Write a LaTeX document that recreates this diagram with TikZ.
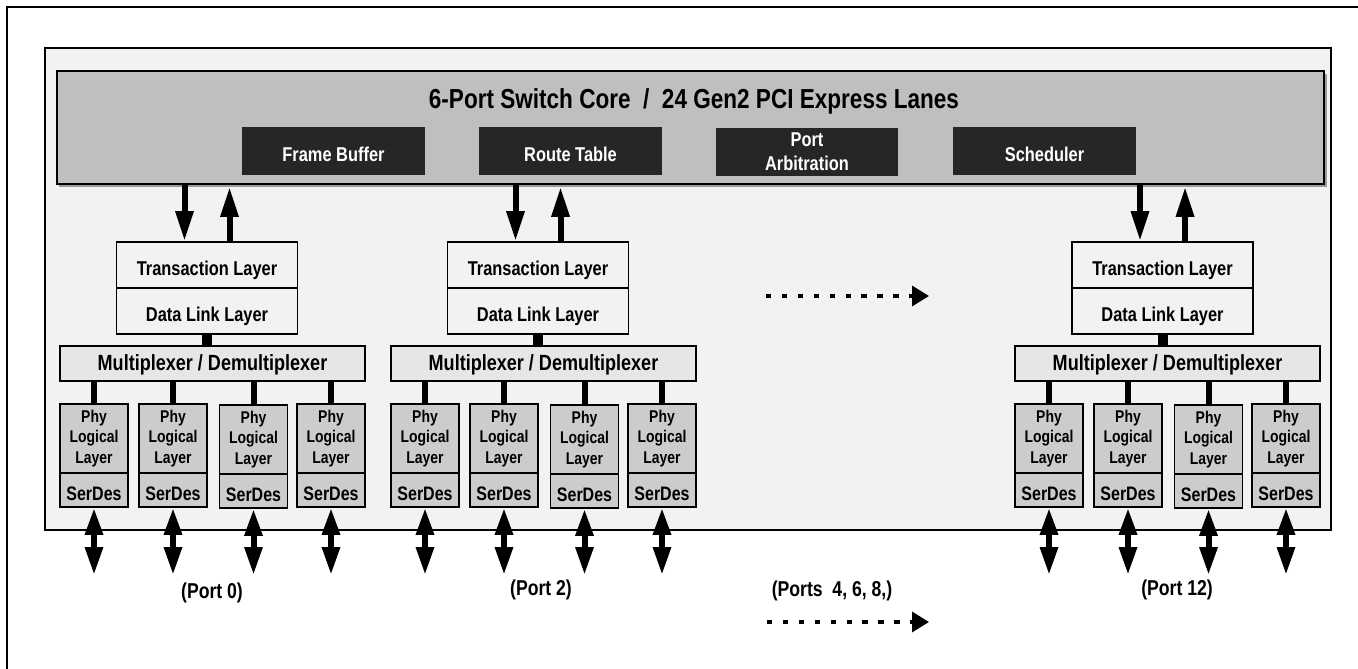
\documentclass[tikz,border=0pt]{standalone}
\usepackage{fontspec}
\setmainfont{Liberation Sans}[FakeStretch=0.82]
\usetikzlibrary{arrows.meta,calc}
\definecolor{innerbg}{HTML}{F2F2F2}
\definecolor{corebg}{HTML}{BFBFBF}
\definecolor{corebox}{HTML}{262626}
\definecolor{muxbg}{HTML}{E6E6E6}
\definecolor{phybg}{HTML}{CCCCCC}
\definecolor{shadowc}{HTML}{9A9A9A}
\tikzset{
  darkbox/.style={fill=corebox, draw=none, inner sep=0pt, minimum width=183pt, minimum height=48pt,
    text=white, font={\fontsize{20pt}{24pt}\selectfont\bfseries}, text height=20pt, text depth=0pt},
  darkbox2/.style={fill=corebox, draw=none, inner sep=0pt, minimum width=182pt, minimum height=48pt,
    text=white, font={\fontsize{20pt}{24pt}\selectfont\bfseries}, align=center},
  tbox/.style={draw, line width=1.7pt, fill=innerbg, inner sep=0pt, minimum width=181pt, minimum height=46pt,
    font={\fontsize{20pt}{24pt}\selectfont\bfseries}, text height=20pt, text depth=0pt},
  muxbox/.style={draw, line width=1.7pt, fill=muxbg, inner sep=0pt, minimum width=305pt, minimum height=35pt,
    font={\fontsize{22pt}{26pt}\selectfont\bfseries}, text height=13pt, text depth=0pt},
  phybox/.style={draw, line width=1.8pt, fill=phybg, inner sep=0pt, minimum width=68pt, minimum height=69pt,
    font={\fontsize{17pt}{20.5pt}\selectfont\bfseries}, align=center},
  serbox/.style={draw, line width=1.8pt, fill=phybg, inner sep=0pt, minimum width=68pt, minimum height=34pt,
    font={\fontsize{19.5pt}{22pt}\selectfont\bfseries}, text height=20pt, text depth=0pt},
  portlabel/.style={anchor=base, inner sep=0pt, font={\fontsize{21.5pt}{24pt}\selectfont\bfseries}},
  bigarrow/.style={line width=6pt, -{Triangle[length=30pt,width=17pt]}},
  dblarrow/.style={line width=6pt, {Triangle[length=27pt,width=17pt]}-{Triangle[length=28pt,width=17pt]}},
  dotarrow/.style={line width=3.3pt, dash pattern=on 5.3pt off 10.6pt, -{Triangle[length=17pt,width=20pt]}},
  thickconn/.style={line width=10pt},
  thinconn/.style={line width=6pt}
}
\begin{document}
\begin{tikzpicture}[x=1pt,y=-1pt]
\useasboundingbox (0,0) rectangle (1358,669);
% outer frame (top and left only visible)
\draw[line width=1.5pt] (7,669) -- (7,7) -- (1358,7);
% inner panel
\draw[line width=2.5pt, fill=innerbg] (45,48) rectangle (1331,530);
% switch core
\fill[shadowc] (59,74) rectangle (1327,187);
\node[draw, line width=1.5pt, fill=corebg, inner sep=0pt, minimum width=1267pt, minimum height=113pt] (core) at (690.5,127.5) {};
\node[anchor=base, inner sep=0pt, font={\fontsize{27.5pt}{30pt}\selectfont\bfseries}] (title) at (694,108) {6-Port Switch Core \ / \ 24 Gen2 PCI Express Lanes};
\node[darkbox] (fb) at (333.5,151) {Frame Buffer};
\node[darkbox] (rt) at (570.5,151) {Route Table};
\node[darkbox2] (pa) at (807,152) {Port\\Arbitration};
\node[darkbox] (sch) at (1044.5,151) {Scheduler};
% port groups
\foreach \g/\L/\tc/\lx/\ly/\lab in {0/60/207/212/598/{(Port 0)}, 2/391/538/541/595/{(Port 2)}, 12/1015/1162.5/1177/595/{(Port 12)}} {
  \node[tbox] (t\g) at (\tc,265) {Transaction Layer};
  \node[tbox] (d\g) at (\tc,311) {Data Link Layer};
  \node[muxbox] (m\g) at (\L+152.5,363.5) {Multiplexer / Demultiplexer};
  \draw[thickconn] (d\g.south) -- (m\g.north -| d\g.south);
  \draw[bigarrow] ($(t\g.north |- core.south)+(-22.5,0)$) -- ($(t\g.north)+(-22.5,0)$);
  \draw[bigarrow] ($(t\g.north)+(22.5,0)$) -- ($(t\g.north |- core.south)+(22.5,2)$);
  \foreach \i/\c/\dy in {a/34/0, b/113/0, c/193.5/1, d/271/0} {
    \node[phybox] (p\g\i) at (\L+\c,438.5+\dy) {Phy\\Logical\\Layer};
    \node[serbox] (s\g\i) at (\L+\c,490+\dy) {SerDes};
    \draw[thinconn] (m\g.south -| p\g\i.north) -- (p\g\i.north);
    \coordinate (e\g\i) at (\L+\c,575);
    \draw[dblarrow] (s\g\i.south) -- (e\g\i);
  }
  \node[portlabel] (lab\g) at (\lx,\ly) {\lab};
}
% continuation arrows
\coordinate (da1) at (766,296);
\coordinate (da1e) at (929,296);
\draw[dotarrow] (da1) -- (da1e);
\node[portlabel] (labmid) at (832,596) {(Ports \ 4, 6, 8,)};
\coordinate (da2) at (767,622);
\coordinate (da2e) at (929,622);
\draw[dotarrow] (da2) -- (da2e);
\end{tikzpicture}
\end{document}
